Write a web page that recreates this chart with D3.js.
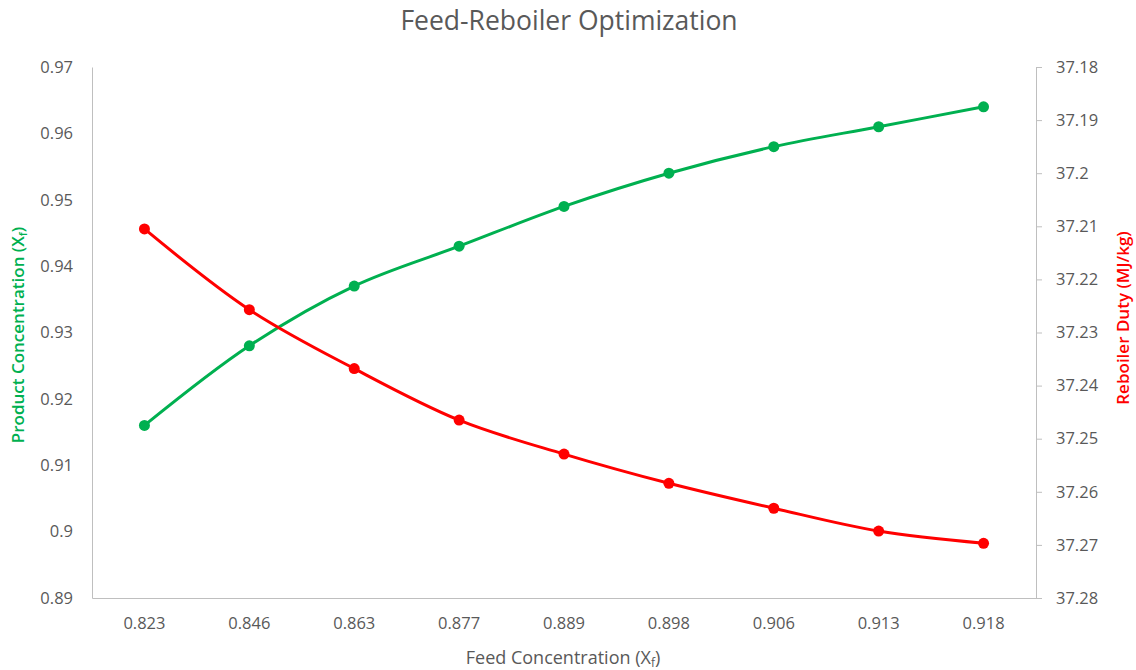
<!DOCTYPE html>
<html><head><meta charset="utf-8">
<script src="https://cdn.jsdelivr.net/npm/d3@7"></script>
<style>body{margin:0;background:#fff}svg{font-family:"Open Sans",sans-serif}</style>
</head><body><svg id="c" width="1136" height="670"></svg>
<script>
const categories = ["0.823","0.846","0.863","0.877","0.889","0.898","0.906","0.913","0.918"];
const productConc = [0.916,0.928,0.937,0.943,0.949,0.954,0.958,0.961,0.964];
const reboilerDuty = [37.2105,37.2257,37.2368,37.2465,37.2529,37.2584,37.2631,37.2674,37.2697];
const leftTicks = [0.89,0.9,0.91,0.92,0.93,0.94,0.95,0.96,0.97];
const rightTicks = [37.18,37.19,37.2,37.21,37.22,37.23,37.24,37.25,37.26,37.27,37.28];

const svg = d3.select("#c");
const L=92,R=1036,T=67,B=598;
const gray="#595959", axisCol="#BFBFBF";
const x = d3.scaleBand().domain(categories).range([L,R]);
const yL = d3.scaleLinear().domain([0.89,0.97]).range([B,T]);
const yR = d3.scaleLinear().domain([37.28,37.18]).range([B,T]);

svg.append("text").attr("x",569).attr("y",30).attr("text-anchor","middle")
  .attr("font-size",26.5).attr("fill",gray).text("Feed-Reboiler Optimization");

// left axis
const gl = svg.append("g").attr("transform",`translate(${L},0)`)
  .call(d3.axisLeft(yL).tickValues(leftTicks).tickSize(0).tickPadding(19).tickFormat(d=>String(+d.toFixed(2))));
gl.select(".domain").attr("stroke",axisCol);
gl.selectAll("text").attr("font-size",16.5).attr("fill",gray).attr("font-family","Open Sans");

// right axis
const gr = svg.append("g").attr("transform",`translate(${R},0)`)
  .call(d3.axisRight(yR).tickValues(rightTicks).tickSize(6).tickSizeOuter(6).tickPadding(14).tickFormat(d=>String(+d.toFixed(2))));
gr.select(".domain").attr("stroke",axisCol);
gr.selectAll(".tick line").attr("stroke",axisCol);
gr.selectAll("text").attr("font-size",16.5).attr("fill",gray).attr("font-family","Open Sans");

// bottom axis
const gb = svg.append("g").attr("transform",`translate(0,${B})`)
  .call(d3.axisBottom(x).tickSize(0).tickSizeOuter(0).tickPadding(19));
gb.select(".domain").attr("stroke",axisCol);
gb.selectAll("text").attr("font-size",16.5).attr("fill",gray).attr("font-family","Open Sans");

// axis titles
const xt = svg.append("text").attr("x",563).attr("y",664).attr("text-anchor","middle").attr("font-size",18).attr("fill",gray);
xt.append("tspan").text("Feed Concentration (X");
xt.append("tspan").attr("font-size",12).attr("dy",3).text("f");
xt.append("tspan").attr("dy",-3).text(")");

const lt = svg.append("text").attr("transform","translate(24,335) rotate(-90)").attr("text-anchor","middle")
  .attr("font-size",17).attr("font-weight",600).attr("fill","#00B050");
lt.append("tspan").text("Product Concentration (X");
lt.append("tspan").attr("font-size",11).attr("dy",3).text("f");
lt.append("tspan").attr("dy",-3).text(")");

svg.append("text").attr("transform","translate(1129,318) rotate(-90)").attr("text-anchor","middle")
  .attr("font-size",17).attr("font-weight",600).attr("fill","#FF0000").text("Reboiler Duty (MJ/kg)");

const cx = d => x(d)+x.bandwidth()/2;
function series(vals, y, col){
  const pts = categories.map((c,i)=>[cx(c), y(vals[i])]);
  svg.append("path").attr("d", d3.line().curve(d3.curveCatmullRom.alpha(0.5))(pts))
    .attr("fill","none").attr("stroke",col).attr("stroke-width",3).attr("stroke-linecap","round");
  svg.append("g").selectAll("circle").data(pts).join("circle")
    .attr("cx",d=>d[0]).attr("cy",d=>d[1]).attr("r",5.5).attr("fill",col);
}
series(productConc, yL, "#00B050");
series(reboilerDuty, yR, "#FF0000");
</script></body></html>
